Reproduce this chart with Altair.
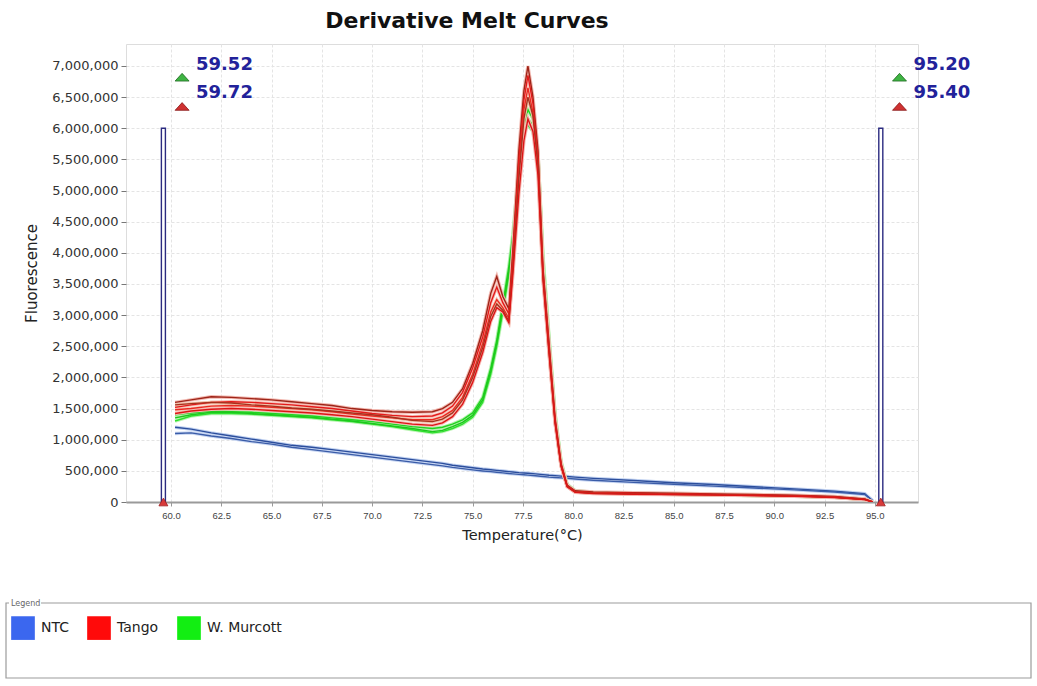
import altair as alt
import pandas as pd

chart_title = "Derivative Melt Curves"
x_axis_title = "Temperature(°C)"
y_axis_title = "Fluorescence"

x_tick_values = [60.0, 62.5, 65.0, 67.5, 70.0, 72.5, 75.0, 77.5, 80.0, 82.5, 85.0, 87.5, 90.0, 92.5, 95.0]
y_tick_values = [0, 500000, 1000000, 1500000, 2000000, 2500000, 3000000, 3500000,
                 4000000, 4500000, 5000000, 5500000, 6000000, 6500000, 7000000]

# temperature grid (°C) shared by all curves
temps = [60.2, 61, 62, 63, 64, 65, 66, 67, 68, 69, 70, 71, 72, 73, 73.5, 74, 74.5, 75,
         75.5, 75.9, 76.2, 76.5, 76.8, 77.0, 77.3, 77.55, 77.75, 78.0, 78.25, 78.5, 78.8,
         79.1, 79.4, 79.7, 80.1, 81, 83, 85, 87, 89, 91, 93, 94.5, 94.9]

# fluorescence values in thousands
ntc_1 = [1200, 1170, 1110, 1060, 1010, 960, 910, 880, 840, 800, 760, 720, 680, 640, 620, 590,
         570, 550, 530, 518, 508, 498, 488, 482, 472, 466, 462, 455, 448, 440, 430, 424,
         416, 410, 400, 380, 345, 310, 280, 245, 210, 175, 135, 20]
ntc_2 = [1100, 1110, 1060, 1020, 970, 930, 880, 840, 800, 760, 720, 680, 640, 600, 580, 555,
         535, 515, 498, 487, 477, 467, 457, 452, 443, 437, 432, 425, 418, 410, 400, 394,
         387, 380, 370, 350, 315, 285, 255, 225, 195, 160, 120, 15]
tango_1 = [1600, 1640, 1690, 1680, 1660, 1640, 1610, 1580, 1550, 1500, 1470, 1450, 1440, 1450, 1500, 1600,
           1820, 2220, 2750, 3350, 3620, 3300, 3100, 4050, 5650, 6600, 7000, 6500, 5650, 3750, 2550, 1350,
           620, 270, 180, 160, 150, 140, 130, 120, 110, 90, 50, 0]
tango_2 = [1520, 1560, 1600, 1610, 1600, 1580, 1560, 1530, 1500, 1460, 1420, 1390, 1370, 1380, 1430, 1540,
           1760, 2150, 2650, 3200, 3450, 3200, 3020, 3950, 5500, 6450, 6850, 6400, 5550, 3700, 2500, 1320,
           600, 260, 170, 150, 140, 130, 120, 110, 100, 80, 45, 0]
tango_3 = [1480, 1500, 1540, 1550, 1540, 1520, 1500, 1480, 1450, 1410, 1380, 1350, 1320, 1320, 1370, 1470,
           1680, 2050, 2550, 3050, 3250, 3120, 2950, 3850, 5350, 6300, 6650, 6250, 5450, 3650, 2450, 1300,
           590, 255, 165, 145, 135, 125, 118, 108, 98, 78, 42, 0]
tango_4 = [1560, 1580, 1600, 1590, 1560, 1540, 1510, 1490, 1460, 1430, 1400, 1360, 1310, 1290, 1330, 1430,
           1640, 2000, 2480, 2980, 3180, 3080, 2900, 3750, 5200, 6150, 6500, 6200, 5400, 3620, 2420, 1280,
           580, 250, 160, 140, 130, 120, 115, 105, 95, 75, 40, 0]
tango_5 = [1420, 1460, 1490, 1500, 1490, 1470, 1450, 1430, 1400, 1370, 1330, 1290, 1250, 1230, 1270, 1370,
           1570, 1920, 2400, 2900, 3120, 3050, 2880, 3650, 4950, 5800, 6150, 5950, 5250, 3560, 2380, 1260,
           570, 245, 155, 135, 125, 118, 112, 102, 92, 72, 38, 0]
murcott_1 = [1400, 1430, 1460, 1450, 1440, 1420, 1400, 1380, 1350, 1320, 1290, 1250, 1210, 1180, 1200, 1250,
             1320, 1430, 1680, 2150, 2600, 3180, 3780, 4300, 5350, 6050, 6300, 6150, 5600, 3950, 2650, 1420,
             650, 285, 185, 155, 140, 130, 120, 110, 100, 80, 45, 0]
murcott_2 = [1300, 1380, 1420, 1420, 1410, 1390, 1370, 1350, 1320, 1290, 1250, 1210, 1160, 1110, 1130, 1180,
             1250, 1360, 1600, 2050, 2500, 3050, 3650, 4150, 5200, 5900, 6150, 6050, 5550, 3900, 2600, 1400,
             630, 275, 175, 148, 135, 125, 115, 105, 95, 76, 42, 0]
murcott_3 = [1350, 1400, 1440, 1440, 1420, 1400, 1380, 1360, 1330, 1300, 1260, 1220, 1180, 1130, 1150, 1210,
             1280, 1390, 1640, 2100, 2550, 3120, 3700, 4200, 5250, 5950, 6050, 5950, 5500, 3850, 2580, 1380,
             610, 265, 170, 146, 133, 123, 113, 103, 93, 74, 40, 0]

curve_groups = {
    "ntc_1": ("NTC", ntc_1), "ntc_2": ("NTC", ntc_2),
    "murcott_1": ("W. Murcott", murcott_1), "murcott_2": ("W. Murcott", murcott_2),
    "murcott_3": ("W. Murcott", murcott_3),
    "tango_1": ("Tango", tango_1), "tango_2": ("Tango", tango_2), "tango_3": ("Tango", tango_3),
    "tango_4": ("Tango", tango_4), "tango_5": ("Tango", tango_5),
}

# legend
legend_groups = ["NTC", "Tango", "W. Murcott"]

# melt-region cursors (°C) and their labels
cursor_low = [59.52, 95.20]
cursor_high = [59.72, 95.40]
cursor_top = 6000000

# ---------------- styles ----------------
line_colors = {
    "ntc_1": ("#2c4e9c", "#bfd0f0"), "ntc_2": ("#3a5ca8", "#c8d6f2"),
    "murcott_1": ("#22d322", "#b4f2ae"), "murcott_2": ("#2ee02e", "#bdf4b6"),
    "murcott_3": ("#1cc81c", "#b0eeaa"),
    "tango_1": ("#9e2418", "#f2b8b0"), "tango_2": ("#e41a1a", "#f6bcb4"),
    "tango_3": ("#ea2a22", "#f8c8b8"), "tango_4": ("#a8301e", "#f0c0a8"),
    "tango_5": ("#dc1616", "#f6b6b0"),
}
legend_colors = ["#3b67ef", "#ff0a0a", "#12ee12"]

rows = []
for cid, (grp, vals) in curve_groups.items():
    for t, v in zip(temps, vals):
        rows.append({"curve": cid, "group": grp, "T": t, "V": v * 1000,
                     "line": line_colors[cid][0], "halo": line_colors[cid][1]})
df = pd.DataFrame(rows)

x_scale = alt.Scale(domain=[57.76, 97.15], nice=False, zero=False)
y_scale = alt.Scale(domain=[0, 7353000], nice=False, zero=True)

x_axis = alt.Axis(values=x_tick_values, format=".1f", labelFont="Liberation Sans",
                  labelFontSize=9.5, labelColor="#444", tickColor="#999", tickSize=4,
                  domainColor="#9a9a9a", domainWidth=2, grid=True, gridColor="#e4e4e4",
                  gridDash=[3, 2], titleFont="DejaVu Sans", titleFontSize=14.5,
                  titleFontWeight="normal", titleColor="#222", titlePadding=9, labelPadding=4)
y_axis = alt.Axis(values=y_tick_values, format=",.0f", labelFont="DejaVu Sans", labelFontSize=13,
                  labelColor="#333", tickColor="#777", tickSize=5, domain=False, grid=True,
                  gridColor="#e4e4e4", gridDash=[3, 2], labelPadding=3, titleFont="DejaVu Sans",
                  titleFontSize=15, titleFontWeight="normal", titleColor="#222", titlePadding=12)


def X(field):
    return alt.X(field, type="quantitative", scale=x_scale, axis=x_axis, title=x_axis_title)


def Y(field):
    return alt.Y(field, type="quantitative", scale=y_scale, axis=y_axis, title=y_axis_title)


layers = []

# legend frame (drawn first, behind everything)
frame_df = pd.DataFrame({"k": [0]})
layers.append(alt.Chart(frame_df).mark_rect(fill="white", stroke="#9c9c9c", strokeWidth=1.2).encode(
    x=alt.value(-120), x2=alt.value(905), y=alt.value(559), y2=alt.value(634)))
layers.append(alt.Chart(frame_df).mark_rect(fill="white").encode(
    x=alt.value(-117), x2=alt.value(-85), y=alt.value(555), y2=alt.value(563)))

# cursor bars
cur_df = pd.DataFrame({"lo": cursor_low, "hi": cursor_high, "base": [0, 0],
                       "top": [cursor_top, cursor_top]})
layers.append(alt.Chart(cur_df).mark_rect(fill="white", stroke="#2b2b80", strokeWidth=1.4).encode(
    x=X("lo"), x2="hi", y=Y("base"), y2="top"))

# curves
for grp in ["NTC", "W. Murcott", "Tango"]:
    base = alt.Chart(df).transform_filter(alt.datum.group == grp).encode(
        x=X("T"), y=Y("V"), detail="curve:N")
    layers.append(base.mark_line(strokeWidth=3.4, clip=True).encode(
        stroke=alt.Stroke("halo:N", scale=None)))
    layers.append(base.mark_line(strokeWidth=1.4, clip=True).encode(
        stroke=alt.Stroke("line:N", scale=None)))

# cursor markers: triangles and labels
label_df = pd.DataFrame({
    "T": [cursor_high[0] + 1.52, cursor_high[0] + 1.52, cursor_high[1] + 1.52, cursor_high[1] + 1.52],
    "V": [7020000, 6570000, 7020000, 6570000],
    "label": ["59.52", "59.72", "95.20", "95.40"],
})
tri_green = pd.DataFrame({"T": [cursor_high[0] + 0.83, cursor_high[1] + 0.83], "V": [6820000, 6820000]})
tri_red = pd.DataFrame({"T": [cursor_high[0] + 0.83, cursor_high[1] + 0.83], "V": [6350000, 6350000]})
tri_shape = "M-1,0.55L0,-0.55L1,0.55Z"
layers.append(alt.Chart(tri_green).mark_point(shape=tri_shape, filled=True, size=196, fill="#3fb443",
                                              stroke="#1f6a22", strokeWidth=0.8, opacity=1).encode(
    x=X("T"), y=Y("V")))
layers.append(alt.Chart(tri_red).mark_point(shape=tri_shape, filled=True, size=196, fill="#cf3232",
                                            stroke="#8a1a1a", strokeWidth=0.8, opacity=1).encode(
    x=X("T"), y=Y("V")))
layers.append(alt.Chart(label_df).mark_text(align="left", baseline="middle", font="DejaVu Sans",
                                            fontWeight="bold", fontSize=18, color="#22229a").encode(
    x=X("T"), y=Y("V"), text="label:N"))

# cursor foot markers on the axis
foot_df = pd.DataFrame({"T": [(cursor_low[0] + cursor_high[0]) / 2, (cursor_low[1] + cursor_high[1]) / 2],
                        "V": [0, 0]})
layers.append(alt.Chart(foot_df).mark_point(shape="triangle-up", filled=True, size=80, fill="#d83a3a",
                                            stroke="#a01c1c", strokeWidth=0.8, opacity=1).encode(
    x=X("T"), y=Y("V")))

# legend source (invisible points)
leg_df = pd.DataFrame({"group": legend_groups, "T": [77, 77, 77], "V": [0, 0, 0]})
layers.append(alt.Chart(leg_df).mark_square(size=0, filled=True, opacity=1).encode(
    x=X("T"), y=Y("V"),
    fill=alt.Fill("group:N", scale=alt.Scale(domain=legend_groups, range=legend_colors),
                  legend=alt.Legend(orient="none", legendX=-115, legendY=556, direction="horizontal",
                                    title="Legend", titleFontSize=8, titleColor="#666",
                                    titleFontWeight="normal", titleFont="DejaVu Sans", titlePadding=8,
                                    symbolType="square", symbolSize=560, symbolStrokeWidth=0,
                                    labelFont="DejaVu Sans", labelFontSize=14, labelColor="#222",
                                    labelOffset=6, columnPadding=18, padding=0))))

chart = alt.layer(*layers).properties(
    width=792, height=458,
    title=alt.TitleParams(chart_title, font="DejaVu Sans", fontSize=22, fontWeight="bold",
                          color="#111", anchor="middle", dx=-55, offset=11),
    padding={"left": 5, "top": 10, "right": 2, "bottom": 2},
).configure_view(stroke="#cfcfcf", strokeWidth=1).configure(background="white")

chart.save("out.html", embed_options={"renderer": "svg", "actions": False})
